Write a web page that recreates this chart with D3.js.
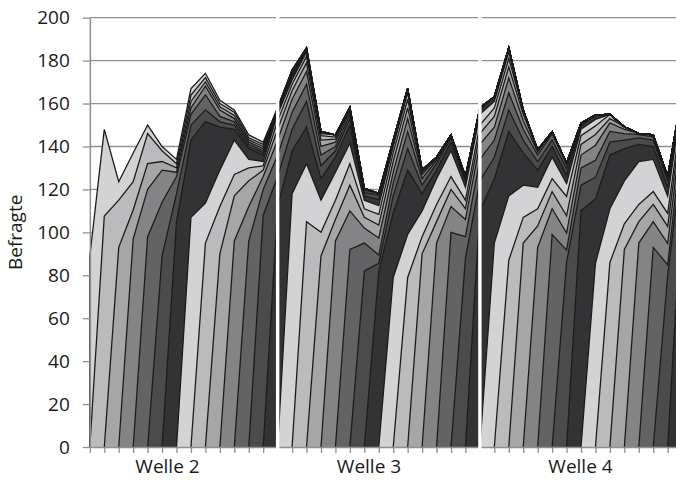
<!DOCTYPE html>
<html>
<head>
<meta charset="utf-8">
<script src="https://cdn.jsdelivr.net/npm/d3@7/dist/d3.min.js"></script>
<style>
  body { margin: 0; background: #fff; }
  svg { display: block; }
  text { font-family: "Open Sans", "Noto Sans", sans-serif; fill: #1a1a1a; }
</style>
</head>
<body>
<div id="chart"></div>
<script>
// Field days 0..41, three waves back to back
const days = d3.range(42);
const waves = ['Welle 2', 'Welle 3', 'Welle 4'];
const waveBreaks = [13, 27];
const yTicks = d3.range(0, 201, 20);

// Befragte per field day, split by cohort: newest cohort first, then older ones
const cohortRows = [
  [89],
  [107.6, 40.4],
  [93, 22, 8.6],
  [97, 13.4, 13.2, 13.4],
  [98, 22, 12, 14, 4],
  [89, 25, 15, 4, 5, 2],
  [105, 13, 8, 2, 2, 2, 2],
  [107, 36, 7, 5, 3, 3, 3, 3],
  [95, 18.6, 38, 5.5, 7, 4, 2, 2, 2],
  [90, 22, 17, 20, 2.5, 2.5, 3, 1.5, 1.5, 1.5],
  [96, 21, 10, 16, 5, 2, 1.5, 1.5, 1.5, 1.5, 1],
  [96, 16, 12, 6, 4, 5, 1, 1, 1, 1, 1, 1.4],
  [108, 12, 6, 3, 2, 2, 3, 1, 1, 1, 1, 1, 1],
  [112, 14, 10, 7, 5, 4, 3, 1, 1, 0.5, 0.5],
  [118, 20, 10, 8, 6, 4, 3, 2, 1.6, 1, 1, 1],
  [105, 27, 17, 12, 8, 6, 4, 3, 2, 1, 1],
  [89, 11, 15, 10, 6, 5, 4, 3, 2, 1, 1],
  [96, 10, 9, 13, 7, 3, 2, 2, 1.4, 1, 1],
  [92, 18, 12, 10, 9.5, 8.5, 3, 2, 1.5, 1, 0.8],
  [82, 13, 7, 5, 4, 4, 2, 1.5, 1, 1],
  [82, 3.6, 3.8, 8, 6, 5, 4, 3, 2, 0.8],
  [79, 30, 8, 6, 5, 5, 4, 3, 2, 1],
  [79, 20, 30, 10, 8, 6, 5, 4, 3, 2],
  [90, 8, 12, 8, 4, 3, 2, 1, 1],
  [95, 10, 8, 12, 4, 3, 1.5, 1, 0.5],
  [100, 12, 8, 6, 12, 4, 2, 1, 0.4],
  [88, 10, 8, 5, 4, 6, 3, 1, 1],
  [110, 14, 10, 7, 5, 4, 5, 2, 1],
  [95, 30, 10, 8, 6, 5, 4, 3, 2.2],
  [87, 30, 30, 10, 8, 7, 5, 4, 3, 2],
  [95, 12, 15, 15, 6, 5, 4, 3, 2],
  [93, 10, 8, 10, 8, 4, 3, 1.4, 1],
  [99, 12, 8, 6, 10, 5, 3, 2.9, 1],
  [86, 5.7, 8, 8, 9, 6, 4, 3, 2.5],
  [110, 12, 8, 6, 5, 4, 3, 1.8, 1],
  [85.6, 30, 10, 8, 7, 5, 4, 3, 2.1],
  [86, 25, 25, 6, 5, 4, 2, 2],
  [92, 12, 20, 15, 4, 3, 2, 1.2],
  [95, 10, 8, 20, 8, 3, 1.5, 0.6],
  [93, 12, 8, 6, 15, 6, 3, 1.5, 0.9],
  [80, 4.8, 10, 8, 6, 8, 4, 3, 2.2],
  [115, 20, 10, 6, 4, 3, 4, 2, 1]
];

// weekday shades, light to dark
const shades = ['#d3d3d5', '#bbbbbd', '#a6a6a8', '#848486', '#636365', '#4b4b4d', '#333335'];

const width = 676, height = 480;
const svg = d3.select('#chart').append('svg')
  .attr('width', width)
  .attr('height', height);

const x = d3.scaleLinear().domain([0, 41]).range([89.85, 89.85 + 14.446 * 41]);
const y = d3.scaleLinear().domain([0, 200]).range([447, 17.7]);

// wide table: one column per cohort
const cohorts = d3.range(42);
const table = days.map(k => {
  const row = { day: k };
  cohorts.forEach(j => {
    const age = k - j;
    row[j] = (age >= 0 && age < cohortRows[k].length) ? cohortRows[k][age] : 0;
  });
  return row;
});

// newest cohort sits at the bottom of the stack
const stack = d3.stack().keys(cohorts.slice().reverse());
const series = stack(table);

// gridlines
svg.append('g')
  .selectAll('line')
  .data(yTicks.filter(t => t > 0))
  .join('line')
  .attr('x1', x(0)).attr('x2', width)
  .attr('y1', d => y(d)).attr('y2', d => y(d))
  .attr('stroke', '#8f8f8f')
  .attr('stroke-width', 1.3);

const area = d3.area()
  .x(d => x(d.data.day))
  .y0(d => y(d[0]))
  .y1(d => y(d[1]));

const topLine = d3.line()
  .x(d => x(d.data.day))
  .y(d => y(d[1]));

const visible = s => s.filter(d => d.data.day >= s.key - 1);

const layers = svg.append('g');
layers.selectAll('path.fill')
  .data(series)
  .join('path')
  .attr('class', 'fill')
  .attr('d', s => area(visible(s)))
  .attr('fill', s => shades[s.key % 7]);

layers.selectAll('path.edge')
  .data(series)
  .join('path')
  .attr('class', 'edge')
  .attr('d', s => topLine(visible(s)))
  .attr('fill', 'none')
  .attr('stroke', '#1b1b1b')
  .attr('stroke-width', 1.3)
  .attr('stroke-linejoin', 'miter');

// left edge of the first cohort
const first = series.find(s => s.key === 0);
svg.append('line')
  .attr('x1', x(0)).attr('x2', x(0))
  .attr('y1', y(0)).attr('y2', y(first[0][1]))
  .attr('stroke', '#1b1b1b')
  .attr('stroke-width', 1.3);

// y axis
const yAxis = svg.append('g')
  .attr('transform', `translate(${x(0)},0)`)
  .call(d3.axisLeft(y).tickValues(yTicks).tickSize(7).tickSizeOuter(0).tickPadding(13));
yAxis.select('.domain').attr('stroke', '#8f8f8f').attr('stroke-width', 1.5);
yAxis.selectAll('.tick line').attr('stroke', '#8f8f8f').attr('stroke-width', 1.3);
yAxis.selectAll('.tick text')
  .attr('font-size', 19)
  .attr('font-family', '"Open Sans", sans-serif')
  .attr('fill', '#1a1a1a');

// x axis
const xAxis = svg.append('g')
  .attr('transform', `translate(0,${y(0)})`)
  .call(d3.axisBottom(x).tickValues(days.slice(0, 41)).tickSize(6).tickSizeOuter(0).tickFormat(''));
xAxis.select('.domain').attr('stroke', '#8f8f8f').attr('stroke-width', 1.6);
xAxis.selectAll('.tick line').attr('stroke', '#8f8f8f').attr('stroke-width', 1.3);

// white gaps between the waves
svg.append('g')
  .selectAll('rect')
  .data(waveBreaks)
  .join('rect')
  .attr('x', d => x(d) - 1.7)
  .attr('y', 0)
  .attr('width', 3.4)
  .attr('height', 456)
  .attr('fill', '#fff');

// wave labels
const labelX = [167.5, 369, 580.5];
svg.append('g')
  .selectAll('text')
  .data(waves)
  .join('text')
  .attr('x', (d, i) => labelX[i])
  .attr('y', 473)
  .attr('text-anchor', 'middle')
  .attr('font-size', 19)
  .text(d => d);

svg.append('text')
  .attr('transform', `translate(22,${y(100)}) rotate(-90)`)
  .attr('text-anchor', 'middle')
  .attr('font-size', 19)
  .text('Befragte');
</script>
</body>
</html>
